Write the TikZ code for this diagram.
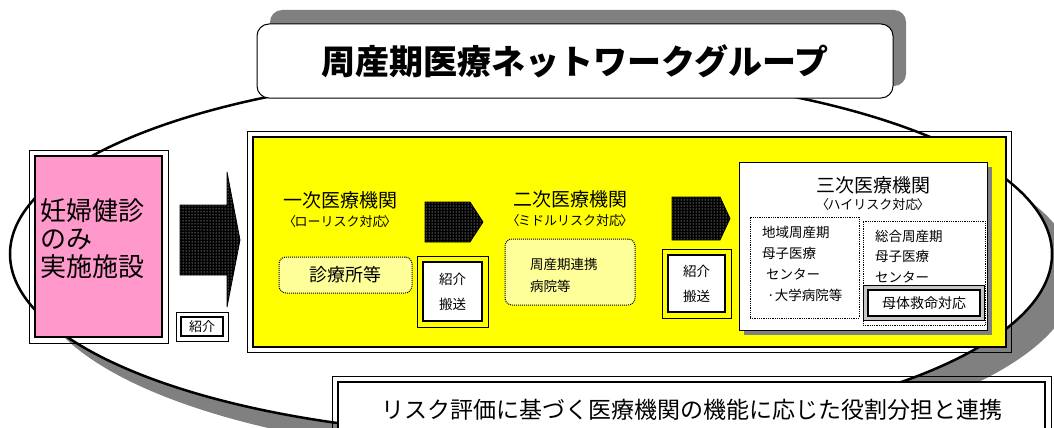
\documentclass[tikz,border=0pt]{standalone}
\usepackage{fontspec}
\setmainfont{Noto Sans CJK JP}
\usetikzlibrary{positioning,patterns}
\definecolor{pinkfill}{HTML}{FF99CC}
\definecolor{boxyellow}{HTML}{FFFF00}
\definecolor{paleyellow}{HTML}{FFFF99}
\definecolor{shadowgray}{HTML}{808080}
\tikzstyle{blockarrow} = [draw=black, line width=0.8pt, preaction={fill=black}, pattern=dots, pattern color=white]
\tikzstyle{softbox} = [draw, densely dotted, line width=1pt, rounded corners=7pt, fill=paleyellow]
\tikzstyle{framebox} = [draw, line width=1.8pt, fill=white, inner sep=0pt]
\tikzstyle{txt} = [inner sep=0pt]
\newcommand{\riskof}[1]{〈\kern-0.12em#1\kern-0.12em〉}

\begin{document}
\begin{tikzpicture}[x=1pt, y=-1pt]
    \useasboundingbox (0,0) rectangle (1054,428);
    \clip (0,0) rectangle (1054,428);

    % network ellipse with shadow
    \fill[shadowgray] (555,276) ellipse (521pt and 182pt);
    \draw[line width=2.5pt, fill=white] (531,254) ellipse (521pt and 182pt);

    % title
    \fill[shadowgray, rounded corners=12pt] (270,10) rectangle (906,86);
    \node[draw, line width=1pt, fill=white, rounded corners=12pt, minimum width=636pt, minimum height=74pt, font=\bfseries\fontsize{34}{40}\selectfont] (title) at (575,61) {周産期医療ネットワークグループ};

    % checkup-only facilities
    \node[draw, line width=2pt, fill=pinkfill, minimum width=127pt, minimum height=181pt] (checkup) at (98.5,246.5) {};
    \draw[line width=0.8pt] ([shift={(-5pt,5pt)}]checkup.north west) rectangle ([shift={(5pt,-5pt)}]checkup.south east);
    \node[txt, anchor=west, align=left, font=\fontsize{26}{28}\selectfont] (checkuptext) at (40,239) {妊婦健診\\のみ\\実施施設};

    \draw[blockarrow] (180,205) -- (227,205) -- (227,172) -- (240,240) -- (227,307) -- (227,275) -- (180,275) -- cycle;

    \node[framebox, minimum width=42pt, minimum height=19pt, font=\fontsize{13}{15}\selectfont] (referral) at (202,326.5) {紹介};
    \draw[line width=0.8pt] ([shift={(-4pt,4pt)}]referral.north west) rectangle ([shift={(4pt,-4pt)}]referral.south east);

    % yellow network box
    \node[draw, line width=1.8pt, fill=boxyellow, minimum width=753pt, minimum height=210pt] (network) at (629.5,242) {};
    \draw[line width=1pt] ([shift={(-5pt,5pt)}]network.north west) rectangle ([shift={(5pt,-5pt)}]network.south east);

    % primary
    \node[txt, font=\fontsize{19}{22}\selectfont] (primary) at (340,200) {一次医療機関};
    \node[txt, font=\fontsize{13}{14}\selectfont, below=6pt of primary] (primaryrisk) {\riskof{ローリスク対応}};
    \node[softbox, minimum width=133pt, minimum height=36pt, font=\fontsize{18}{20}\selectfont] (clinic) at (345.5,275) {診療所等};

    \draw[blockarrow] (425,202) -- (470,202) -- (483,222) -- (470,242) -- (425,242) -- cycle;

    \node[framebox, minimum width=59pt, minimum height=59pt, align=center, font=\fontsize{13.5}{25}\selectfont] (transferA) at (452.5,291.5) {紹介\\搬送};
    \draw[line width=0.8pt] ([shift={(-5pt,5pt)}]transferA.north west) rectangle ([shift={(5pt,-5pt)}]transferA.south east);

    % secondary
    \node[txt, font=\fontsize{19}{22}\selectfont] (secondary) at (570,199) {二次医療機関};
    \node[txt, font=\fontsize{13}{14}\selectfont, below=6pt of secondary] (secondaryrisk) {\riskof{ミドルリスク対応}};
    \node[softbox, minimum width=130pt, minimum height=66pt] (hospital) at (570,272) {};
    \node[txt, anchor=west, align=left, font=\fontsize{13.5}{22}\selectfont] (hospitaltext) at (530,275) {周産期連携\\病院等};

    \draw[blockarrow] (672,197) -- (720,197) -- (730,218.5) -- (720,240) -- (672,240) -- cycle;

    \node[framebox, minimum width=57pt, minimum height=57pt, align=center, font=\fontsize{13.5}{25}\selectfont] (transferB) at (696.5,283.5) {紹介\\搬送};
    \draw[line width=0.8pt] ([shift={(-5pt,5pt)}]transferB.north west) rectangle ([shift={(5pt,-5pt)}]transferB.south east);

    % tertiary
    \fill[shadowgray] (744,167) rectangle (992,335);
    \node[draw, line width=1pt, fill=white, minimum width=248pt, minimum height=168pt] (tertiary) at (863,246) {};
    \node[txt, font=\fontsize{19}{22}\selectfont] (tertiarytitle) at (873,185) {三次医療機関};
    \node[txt, font=\fontsize{13}{14}\selectfont, below=4pt of tertiarytitle] (tertiaryrisk) {\riskof{ハイリスク対応}};

    \node[draw, densely dotted, line width=0.8pt, minimum width=109pt, minimum height=101pt] (regional) at (804.5,267.5) {};
    \node[txt, anchor=west, align=left, font=\fontsize{13.5}{21}\selectfont] (regionaltext) at (762,263.5) {地域周産期\\母子医療\\\hspace{4pt}センター\\\hspace{5pt}·大学病院等};

    \node[draw, densely dotted, line width=0.8pt, minimum width=122pt, minimum height=104pt] (general) at (924,273) {};
    \node[txt, anchor=west, align=left, font=\fontsize{13.5}{20.5}\selectfont] (generaltext) at (875,256.5) {総合周産期\\母子医療\\センター};

    \node[draw, line width=1.2pt, fill=white, minimum width=112pt, minimum height=26pt, inner sep=0pt, font=\fontsize{14}{16}\selectfont] (rescue) at (924,303) {母体救命対応};
    \draw[line width=0.8pt, fill=gray!45, even odd rule] ([shift={(-4pt,4pt)}]rescue.north west) rectangle ([shift={(4pt,-4pt)}]rescue.south east) (rescue.north west) rectangle (rescue.south east);

    % role sharing
    \node[draw, line width=1.8pt, fill=white, minimum width=707pt, minimum height=55pt, font=\fontsize{23}{26}\selectfont] (roles) at (691.5,409.5) {リスク評価に基づく医療機関の機能に応じた役割分担と連携};
    \draw[line width=0.8pt] ([shift={(-5pt,5pt)}]roles.north west) rectangle ([shift={(5pt,-5pt)}]roles.south east);
\end{tikzpicture}
\end{document}
